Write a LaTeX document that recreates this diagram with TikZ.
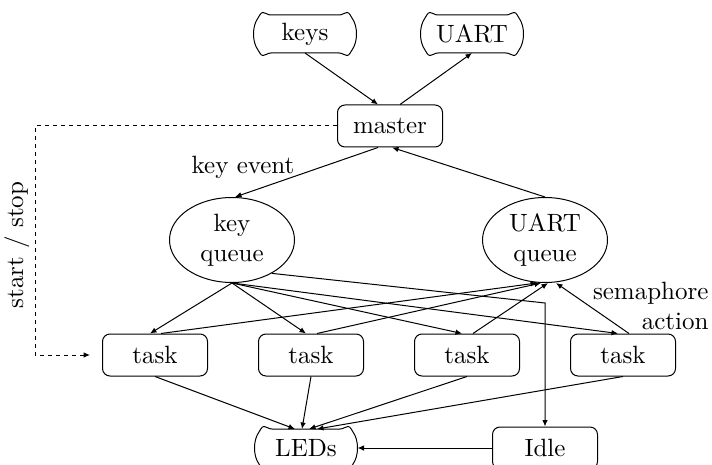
\documentclass[tikz,border=0pt]{standalone}
\usetikzlibrary{calc,shapes.geometric,arrows.meta}

% outline of a scroll-like terminal box with rounded lobes at the corners,
% drawn around a plain node (units: picture units, y pointing down)
\newcommand\scrolloutline[1]{%
  \begin{scope}[shift={(#1.center)}]
    \draw (-47,-16) .. controls (-45.5,-18) and (-44.5,-21.5) .. (-42,-21.5)
      .. controls (-39,-21.5) and (-38,-19) .. (-34,-19) -- (34,-19)
      .. controls (38,-19) and (39,-21.5) .. (42,-21.5)
      .. controls (44.5,-21.5) and (45.5,-18) .. (47,-16)
      .. controls (53,-8) and (53,8) .. (47,16)
      .. controls (45.5,18) and (44.5,21.5) .. (42,21.5)
      .. controls (39,21.5) and (38,19) .. (34,19) -- (-34,19)
      .. controls (-38,19) and (-39,21.5) .. (-42,21.5)
      .. controls (-44.5,21.5) and (-45.5,18) .. (-47,16)
      .. controls (-53,8) and (-53,-8) .. (-47,-16) -- cycle;
  \end{scope}}

\begin{document}
\begin{tikzpicture}[x=0.4pt,y=-0.4pt,
  scrollbox/.style={minimum width=37.6pt,minimum height=15.2pt,inner sep=0pt,outer sep=0pt},
  taskbox/.style={draw,rounded corners=3pt,minimum width=42pt,minimum height=16.8pt,inner sep=0pt},
  queue/.style={draw,ellipse,minimum width=50pt,minimum height=34pt,inner sep=0pt,align=center},
  link/.style={-{Latex[length=2.6pt,width=2.2pt]}},
  note/.style={inner sep=0pt}]
\useasboundingbox (0,0) rectangle (712,465);

% devices
\node[scrollbox] (keys) at (305,34) {keys};
\node[scrollbox] (uart) at (472,34) {UART};
\node[scrollbox] (leds) at (306,448) {LEDs};
\scrolloutline{keys}
\scrolloutline{uart}
\scrolloutline{leds}

% tasks and queues
\node[taskbox] (master) at (390,126) {master};
\node[queue] (keyq) at (232,240) {key\\queue};
\node[queue] (uartq) at (545,240) {UART\\queue};
\node[taskbox] (t1) at (155,355) {task};
\node[taskbox] (t2) at (311,355) {task};
\node[taskbox] (t3) at (467,355) {task};
\node[taskbox] (t4) at (623,355) {task};
\node[taskbox] (idle) at (545,448) {Idle};

% labels
\node[note] (keyevent) at (243,167) {key event};
\node[note,rotate=90] (startstop) at (17,245) {start / stop};
\node[note,align=right,anchor=east] (sema) at (709,306) {semaphore\\action};

% master and its devices
\draw[link] (keys.south) -- ($(master.north)+(-12,0)$);
\draw[link] ($(master.north)+(10,0)$) -- (uart.south);
\draw[link] ($(master.south)+(-12,0)$) -- ($(keyq.north)+(3,0)$);
\draw[link] (uartq.north) -- ($(master.south)+(2,0)$);

% start / stop control
\coordinate (sscorner) at (35,355);
\coordinate (ssend) at (90,355);
\draw[link,dash pattern=on 1.6pt off 1.6pt] (master.west) -| (sscorner) -- (ssend);

% key queue to the tasks
\foreach \t in {t1,t2,t3,t4}
  \draw[link] (keyq.south) -- ($(\t.north)+(-5,0)$);

% key queue to idle
\coordinate (idlebend) at (545,303);
\draw[link] (keyq.-40) -- (idlebend) -- (idle.north);

% semaphore actions on the UART queue
\draw[link] ($(t1.north)+(6,0)$) -- ($(uartq.south)+(-8,0)$);
\draw[link] ($(t2.north)+(6,0)$) -- ($(uartq.south)+(-4,0)$);
\draw[link] ($(t3.north)+(6,0)$) -- ($(uartq.south)+(3,0)$);
\draw[link] ($(t4.north)+(6,0)$) -- ($(uartq.south)+(11,0)$);

% tasks driving the LEDs
\draw[link] (t1.south) -- ($(leds.north)+(-11,0)$);
\draw[link] (t2.south) -- ($(leds.north)+(-4,0)$);
\draw[link] (t3.south) -- ($(leds.north)+(3,0)$);
\draw[link] (t4.south) -- ($(leds.north)+(11,0)$);
\draw[link] (idle.west) -- ($(leds.east)+(4.5,0)$);
\end{tikzpicture}
\end{document}
